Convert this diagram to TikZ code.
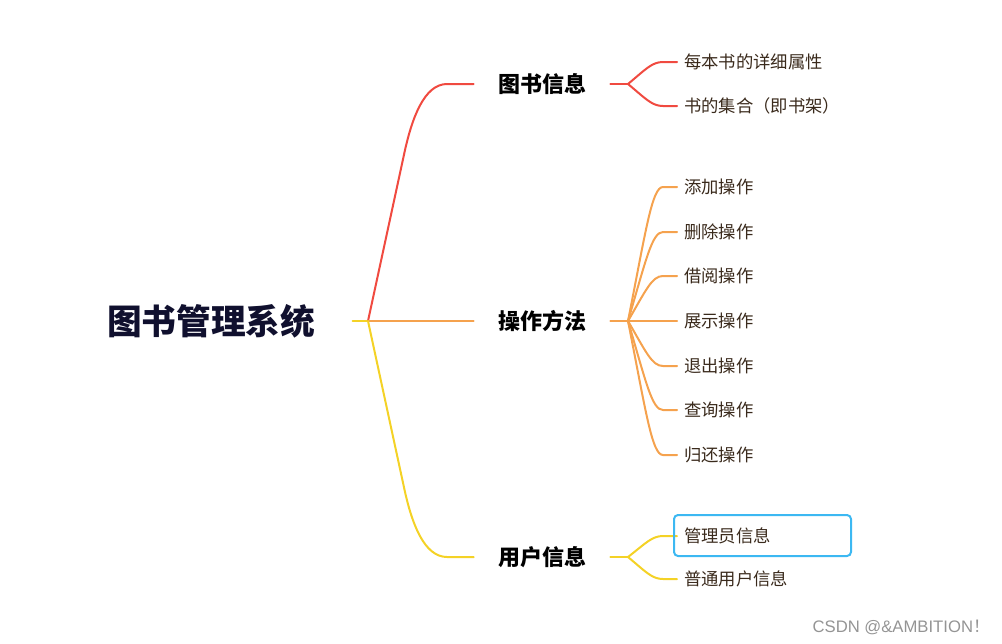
\documentclass[tikz,border=0pt]{standalone}
\usepackage{fontspec}
\setmainfont{Noto Sans CJK SC}
\newfontfamily\markfont{Liberation Sans}
\usetikzlibrary{positioning}

\definecolor{redline}{HTML}{F04A40}
\definecolor{orangeline}{HTML}{F5A24E}
\definecolor{yellowline}{HTML}{F4D226}
\definecolor{boxblue}{HTML}{3CB8F2}
\definecolor{rootink}{HTML}{10102E}
\definecolor{leafink}{HTML}{3A2A1C}

\begin{document}
\begin{tikzpicture}[x=0.75pt, y=-0.75pt,
    branch/.style={line width=1.5pt, line cap=round},
    rootnode/.style={font=\fontsize{26}{30}\selectfont\bfseries, text=rootink, inner xsep=28pt, inner ysep=0pt},
    topic/.style={font=\fontsize{16.5}{20}\selectfont\bfseries, inner xsep=18pt, inner ysep=0pt},
    leaf/.style={anchor=west, font=\fontsize{13}{16}\selectfont, text=leafink, inner xsep=5.25pt, inner ysep=0pt}]

            \useasboundingbox (0,0) rectangle (1002,643);

            \node[rootnode] (root) at (211, 321) {图书管理系统};

            \node[topic] (info) at (542, 84) {图书信息};
            \node[topic] (ops) at (542, 321) {操作方法};
            \node[topic] (user) at (542, 557) {用户信息};

            \coordinate (rj) at (368, 321);
            \coordinate (ij) at (628, 84);
            \coordinate (oj) at (628, 321);
            \coordinate (uj) at (628, 557);

            \draw[branch, yellowline] (root.east) -- (rj);
            \draw[branch, redline] (rj) -- (405, 150) .. controls (412, 119) and (424, 84) .. (447, 84) -- (info.west);
            \draw[branch, orangeline] (rj) -- (ops.west);
            \draw[branch, yellowline] (rj) -- (405, 492) .. controls (412, 523) and (424, 557) .. (447, 557) -- (user.west);

            \node[leaf] (i1) at (677, 62) {每本书的详细属性};
            \node[leaf] (i2) at (677, 106) {书的集合（即书架）};

            \draw[branch, redline] (info.east) -- (ij);
            \draw[branch, redline] (ij) .. controls (646, 69) and (652, 62) .. (663, 62) -- (i1.west);
            \draw[branch, redline] (ij) .. controls (646, 99) and (652, 106) .. (663, 106) -- (i2.west);

            \node[leaf] (o1) at (677, 187) {添加操作};
            \node[leaf] (o2) at (677, 232) {删除操作};
            \node[leaf] (o3) at (677, 276) {借阅操作};
            \node[leaf] (o4) at (677, 321) {展示操作};
            \node[leaf] (o5) at (677, 366) {退出操作};
            \node[leaf] (o6) at (677, 410) {查询操作};
            \node[leaf] (o7) at (677, 455) {归还操作};

            \draw[branch, orangeline] (ops.east) -- (oj);
            \draw[branch, orangeline] (oj) .. controls (646, 230) and (652, 187) .. (663, 187) -- (o1.west);
            \draw[branch, orangeline] (oj) .. controls (646, 260) and (652, 232) .. (663, 232) -- (o2.west);
            \draw[branch, orangeline] (oj) .. controls (646, 290) and (652, 276) .. (663, 276) -- (o3.west);
            \draw[branch, orangeline] (oj) -- (o4.west);
            \draw[branch, orangeline] (oj) .. controls (646, 352) and (652, 366) .. (663, 366) -- (o5.west);
            \draw[branch, orangeline] (oj) .. controls (646, 382) and (652, 410) .. (663, 410) -- (o6.west);
            \draw[branch, orangeline] (oj) .. controls (646, 412) and (652, 455) .. (663, 455) -- (o7.west);

            \node[leaf] (u1) at (677, 536) {管理员信息};
            \node[leaf] (u2) at (677, 579) {普通用户信息};

            \draw[branch, yellowline] (user.east) -- (uj);
            \draw[branch, yellowline] (uj) .. controls (646, 543) and (652, 536) .. (663, 536) -- (u1.west);
            \draw[branch, yellowline] (uj) .. controls (646, 572) and (652, 579) .. (663, 579) -- (u2.west);

            \draw[boxblue, line width=1.5pt, rounded corners=3pt] (674, 515) rectangle (851, 556);

            \node[anchor=east, font=\fontsize{12.5}{15}\selectfont, text=black!42, inner sep=0pt] (mark) at (990, 627) {\markfont CSDN @\&AMBITION\normalfont ！};
        \end{tikzpicture}
\end{document}
